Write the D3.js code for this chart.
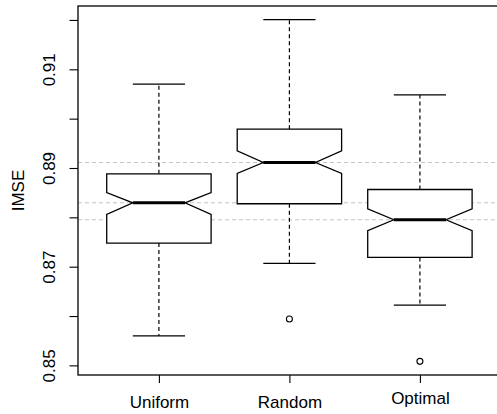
<!DOCTYPE html>
<html>
<head>
<meta charset="utf-8">
<script src="https://cdn.jsdelivr.net/npm/d3@7/dist/d3.min.js"></script>
<style>
  html, body { margin: 0; padding: 0; background: #fff; }
  svg { display: block; }
  text { font-family: "Liberation Sans", Arial, sans-serif; fill: #000; }
</style>
</head>
<body>
<svg id="chart" width="497" height="414"></svg>
<script>
// ---- data ----
const categories   = ["Uniform", "Random", "Optimal"];
const whiskerLow   = [0.85596, 0.87066, 0.86222];
const boxLow       = [0.87479, 0.88275, 0.87187];
const medians      = [0.88295, 0.89111, 0.87951];
const boxHigh      = [0.88882, 0.89787, 0.88564];
const whiskerHigh  = [0.90698, 0.92006, 0.90481];
const notchLow     = [0.88058, 0.88888, 0.87728];
const notchHigh    = [0.88503, 0.89348, 0.88173];
const outliers     = [[], [0.85940], [0.85082]];
const yTicks       = [0.85, 0.86, 0.87, 0.88, 0.89, 0.90, 0.91, 0.92];
const yTickLabels  = ["0.85", "", "0.87", "", "0.89", "", "0.91", ""];
const yLabel       = "IMSE";

// ---- layout ----
const svg = d3.select("#chart");
const plotLeft = 78, plotTop = 6, plotBottom = 375;
const unitPx = 130.5;
const plotRight = plotLeft + 3.24 * unitPx;
const fontSize = 17;

const allVals = whiskerLow.concat(whiskerHigh, outliers.flat());
const vmin = d3.min(allVals), vmax = d3.max(allVals);
const pad = (vmax - vmin) * 0.04;
const y = d3.scaleLinear().domain([vmin - pad, vmax + pad]).range([plotBottom, plotTop]);
const x = d3.scaleLinear().domain([0.38, 3.62]).range([plotLeft, plotRight]);

const boxHalf = 0.4, notchHalf = 0.2, capHalf = 0.2;

// median reference lines (behind boxes)
svg.append("g").selectAll("line").data(medians).join("line")
  .attr("x1", plotLeft).attr("x2", plotRight)
  .attr("y1", d => y(d)).attr("y2", d => y(d))
  .attr("stroke", "#c4c4c4").attr("stroke-width", 1)
  .attr("stroke-dasharray", "4,3");

const data = categories.map((c, i) => ({
  c, i: i + 1, wl: whiskerLow[i], bl: boxLow[i], med: medians[i], bh: boxHigh[i],
  wh: whiskerHigh[i], nl: notchLow[i], nh: notchHigh[i], out: outliers[i]
}));

const g = svg.append("g").selectAll("g").data(data).join("g");

// whiskers (dashed)
g.append("line")
  .attr("x1", d => x(d.i)).attr("x2", d => x(d.i))
  .attr("y1", d => y(d.bh)).attr("y2", d => y(d.wh))
  .attr("stroke", "#000").attr("stroke-width", 1.2).attr("stroke-dasharray", "4,3");
g.append("line")
  .attr("x1", d => x(d.i)).attr("x2", d => x(d.i))
  .attr("y1", d => y(d.bl)).attr("y2", d => y(d.wl))
  .attr("stroke", "#000").attr("stroke-width", 1.2).attr("stroke-dasharray", "4,3");
// caps
g.append("line")
  .attr("x1", d => x(d.i - capHalf)).attr("x2", d => x(d.i + capHalf))
  .attr("y1", d => y(d.wh)).attr("y2", d => y(d.wh))
  .attr("stroke", "#000").attr("stroke-width", 1.3);
g.append("line")
  .attr("x1", d => x(d.i - capHalf)).attr("x2", d => x(d.i + capHalf))
  .attr("y1", d => y(d.wl)).attr("y2", d => y(d.wl))
  .attr("stroke", "#000").attr("stroke-width", 1.3);

// notched box
g.append("path")
  .attr("d", d => {
    const p = d3.path();
    p.moveTo(x(d.i - boxHalf), y(d.bh));
    p.lineTo(x(d.i + boxHalf), y(d.bh));
    p.lineTo(x(d.i + boxHalf), y(d.nh));
    p.lineTo(x(d.i + notchHalf), y(d.med));
    p.lineTo(x(d.i + boxHalf), y(d.nl));
    p.lineTo(x(d.i + boxHalf), y(d.bl));
    p.lineTo(x(d.i - boxHalf), y(d.bl));
    p.lineTo(x(d.i - boxHalf), y(d.nl));
    p.lineTo(x(d.i - notchHalf), y(d.med));
    p.lineTo(x(d.i - boxHalf), y(d.nh));
    p.closePath();
    return p.toString();
  })
  .attr("fill", "#fff").attr("stroke", "#000").attr("stroke-width", 1.3)
  .attr("stroke-linejoin", "miter");

// median
g.append("line")
  .attr("x1", d => x(d.i - notchHalf)).attr("x2", d => x(d.i + notchHalf))
  .attr("y1", d => y(d.med)).attr("y2", d => y(d.med))
  .attr("stroke", "#000").attr("stroke-width", 3);

// outliers
g.selectAll("circle").data(d => d.out.map(v => ({ i: d.i, v }))).join("circle")
  .attr("cx", d => x(d.i)).attr("cy", d => y(d.v)).attr("r", 3)
  .attr("fill", "none").attr("stroke", "#000").attr("stroke-width", 1.1);

// frame
svg.append("rect")
  .attr("x", plotLeft).attr("y", plotTop)
  .attr("width", plotRight - plotLeft).attr("height", plotBottom - plotTop)
  .attr("fill", "none").attr("stroke", "#000").attr("stroke-width", 1.3);

// y axis
const yAxis = d3.axisLeft(y).tickValues(yTicks).tickSize(8.5).tickPadding(0)
  .tickFormat((d, i) => yTickLabels[i]);
const ya = svg.append("g").attr("transform", `translate(${plotLeft},0)`).call(yAxis);
ya.select(".domain").remove();
ya.selectAll(".tick line").attr("stroke", "#000").attr("stroke-width", 1.1);
ya.selectAll(".tick text")
  .attr("x", null).attr("dy", null)
  .attr("transform", "translate(-23,0) rotate(-90)")
  .attr("text-anchor", "middle")
  .style("font-size", fontSize + "px")
  .style("font-family", "'Liberation Sans', Arial, sans-serif");

// x axis
const xAxis = d3.axisBottom(x).tickValues([1, 2, 3]).tickSize(8).tickPadding(0)
  .tickFormat((d, i) => categories[i]);
const xa = svg.append("g").attr("transform", `translate(0,${plotBottom})`).call(xAxis);
xa.select(".domain").remove();
xa.selectAll(".tick line").attr("stroke", "#000").attr("stroke-width", 1.1);
xa.selectAll(".tick text")
  .attr("dy", null)
  .attr("y", (d, i) => categories[i] === "Optimal" ? 28.5 : 32.5)
  .style("font-size", fontSize + "px")
  .style("font-family", "'Liberation Sans', Arial, sans-serif");

// y label
svg.append("text")
  .attr("transform", `translate(24,${(plotTop + plotBottom) / 2}) rotate(-90)`)
  .attr("text-anchor", "middle")
  .style("font-size", fontSize + "px")
  .text(yLabel);
</script>
</body>
</html>
